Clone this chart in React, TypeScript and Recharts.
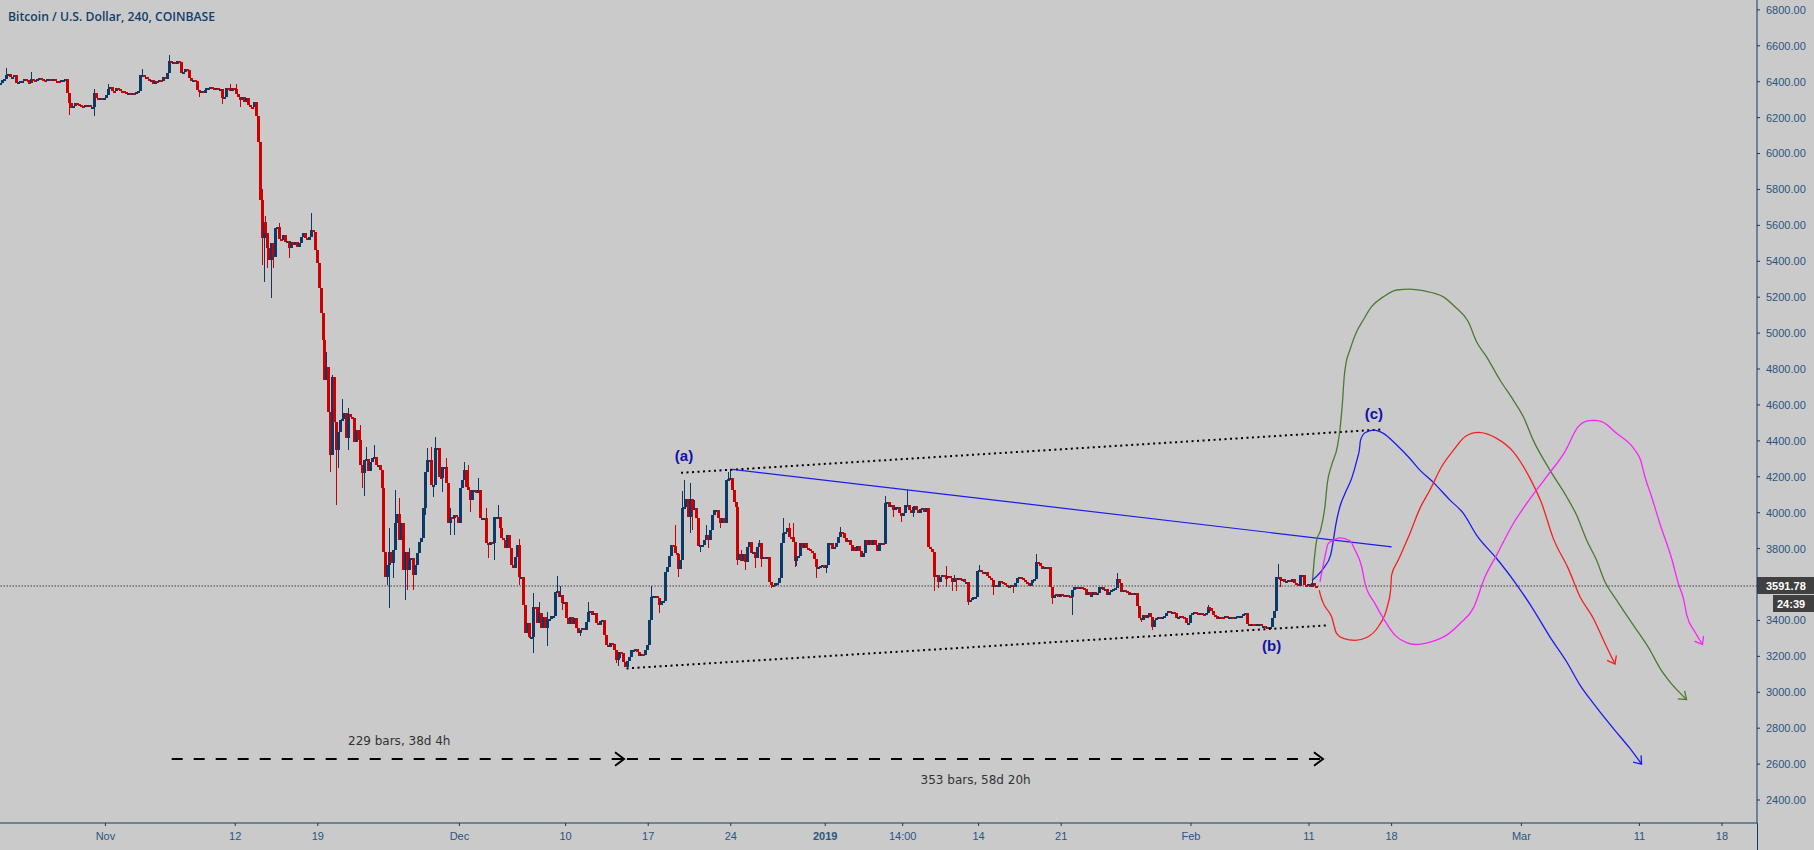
import React from "react";
import { ComposedChart, Bar, Line, XAxis, YAxis, ReferenceLine, ReferenceDot } from "recharts";

const firstOpen = 6385;
const closes = [
  6395,6410,6417,6437,6443,6424,6424,6435,6391,6398,6402,6406,6413,6410,6398,6391,6417,6410,6404,6413,6423,6413,6410,6402,6413,6415,6410,6413,6406,6404,6397,6408,6410,6413,
  6335,6280,6252,6265,6280,6278,6270,6265,6257,6268,6265,6268,6261,6261,6335,6307,6302,6311,6307,6311,6326,6358,6369,6350,6347,6363,6358,6350,6347,6343,6335,6339,6333,6335,6332,6341,6350,
  6437,6437,6424,6424,6415,6402,6410,6387,6404,6400,6410,6406,6424,6417,6450,6515,6502,6512,6499,6517,6510,6447,6456,6469,6465,6419,6406,6410,6404,6354,6345,6350,6339,6354,6363,6365,6369,6365,6354,6363,6358,6358,6307,6317,6363,6358,6350,6363,6358,6330,6317,6298,6313,6289,6311,6270,6261,6257,6289,6209,6066,5741,5528,
  5620,5555,5472,5407,5500,5425,5583,5589,5522,5518,5546,5509,5515,5472,5509,5490,5509,5481,5500,5537,5555,5528,5518,5537,5574,5561,5463,5388,5249,5110,4961,4739,4813,4562,4321,4757,4507,4349,4451,4516,4520,4553,4414,4549,4535,4525,4395,4460,4405,4265,4219,4293,4297,4234,4284,4303,4308,4265,4265,4238,4136,3783,3644,3709,3783,3718,3792,3941,3993,3848,3941,3681,3783,3681,3740,3746,3653,3709,3774,3839,3857,4024,4228,4293,4293,4154,4154,4358,4358,4200,4191,4256,4256,4163,3944,3978,3969,3987,3978,3944,4136,4182,4238,4145,4126,4070,4126,4126,4108,4126,3968,3968,3968,3829,3820,3839,3829,3978,3978,3978,3913,3857,3848,3801,3876,3801,3709,3690,3755,3820,3644,3644,3486,3332,3384,3310,3310,3477,3475,3384,3440,3356,3421,3356,3402,3406,3425,3425,3560,3565,3532,3542,3495,3505,3412,3380,3421,3380,3412,3356,3328,3347,3356,3347,3393,3449,3454,3430,3440,3384,3375,3399,3402,3319,3263,3254,3272,3268,3235,3180,3189,3226,3217,3170,3139,3176,3198,3235,3235,3239,3226,3202,3213,3207,3235,3263,
  3402,3532,3538,3538,3523,3486,3510,3510,3671,3695,3758,3820,3816,3773,3769,3684,3736,4024,4029,4079,3978,4079,4015,4024,3968,3814,3820,3820,3848,3875,3848,3903,3987,4015,4015,3968,3944,3968,3940,4182,4187,4191,4126,4061,4033,3736,3768,3731,3768,3727,3810,3838,3777,3783,3745,3810,3829,3740,3755,3751,3751,3616,3597,3591,3606,3610,3638,3829,3888,3894,3912,3866,3862,3838,3732,3755,3758,3829,3801,3833,3801,3796,3788,3773,3740,3695,3699,3703,3708,3690,3708,3829,3829,3796,3810,3829,3862,3894,3885,3857,3838,3848,3820,3788,3807,3788,3814,3788,3755,3773,3848,3820,3848,3820,3848,3820,3788,3829,3829,3825,4055,4060,4029,4042,4015,4029,4029,3996,3981,4000,4042,4042,4015,4000,4033,4037,4015,3996,4018,4024,4005,4024,3807,3796,3783,3643,3653,3616,3643,3653,3643,3638,3647,3634,3616,3634,3625,3634,3625,3629,3616,3616,3504,3513,3523,3532,3532,3675,3680,3671,3667,3671,3649,3634,3625,3588,3597,
  3584,3621,3616,3607,3597,3592,3588,3597,3584,3610,3634,3644,3634,3625,3616,3607,3592,3607,3625,3629,3727,3718,3703,3685,3696,3699,3696,3588,3523,3542,3547,3532,3547,3542,3532,3542,3536,3529,3570,3584,3588,3579,3584,3579,3573,3542,3560,3542,3542,3560,3542,3555,3584,3588,3569,3573,3542,3560,3569,3573,3579,3629,3607,3560,3569,3566,3560,3542,3551,3542,3551,3480,3412,3402,3430,3412,3430,3440,3421,3365,3402,3412,3421,3412,3417,3425,3443,3453,3445,3449,3440,3412,3417,3425,3421,3412,3384,3384,3430,3443,3449,3440,3430,3443,3436,3430,3440,3473,3467,3454,3430,3425,3406,3421,3417,3412,3425,3412,3417,3421,3417,3421,3425,3425,3427,3434,3440,3380,3375,3380,3378,3375,3378,3380,3371,3371,3365,3365,3363,3365,3412,3454,3640,3640,3625,3629,3616,3620,3625,3614,3629,3607,3603,3592,3653,3653,3597,3592,3603,3588,3607,3592,3591.78,
];
const spikeHighBars = [3,16,48,55,72,86,117,120,133,135,142,158,166,169,171,174,177,183,186,190,198,201,203,208,217,219,221,227,229,236,238,243,247,253,264,271,274,278,283,285,299,331,343,347,348,351,353,359,370,371,377,386,398,401,403,427,450,461,481,485,498,527,568,614,650,667];
const spikeHighs = [6474,6452,6358,6387,6469,6549,6387,6387,5800,5652,5611,5667,4896,4767,4460,4631,4581,4488,4367,4377,3913,4126,4080,3802,4358,4367,4423,4302,4024,4284,4265,4191,4024,4043,3855,3551,3505,3448,3647,3594,3500,3591,3931,4120,4182,4163,4070,3931,4228,4241,3792,3847,3973,3942,3944,3918,4092,4126,3703,3653,3708,3770,3662,3486,3714,3625];
const spikeLowBars = [35,48,101,113,122,133,134,136,138,139,147,168,171,172,177,184,185,197,198,200,206,207,210,216,220,225,229,231,239,248,251,264,269,271,278,286,295,313,314,335,345,351,352,356,360,366,375,379,384,387,392,404,405,415,420,454,458,464,475,477,481,484,486,492,505,515,535,545,580,586,651];
const spikeLows = [6215,6209,6315,6277,6260,5379,5286,5360,5197,5360,5416,4228,4043,4247,4349,4136,4095,3597,3467,3635,3514,3569,3569,3987,4089,4117,3876,3876,4005,3745,3737,3600,3300,3220,3258,3460,3312,3165,3145,3443,3643,3885,3903,3783,3801,3912,3710,3680,3690,3700,3580,3700,3703,3634,3662,3977,3950,3974,3565,3580,3584,3564,3566,3485,3541,3551,3490,3430,3393,3347,3584];

const priceTicks = [2400,2600,2800,3000,3200,3400,3800,4000,4200,4400,4600,4800,5000,5200,5400,5600,5800,6000,6200,6400,6600,6800];
const timeTicks = [53.6,119.6,161.6,233.6,287.6,329.6,371.6,419.6,459,497.6,539.6,605.6,665.6,707.6,773.6,833.6,875.6];
const timeLabels = ["Nov","12","19","Dec","10","17","24","2019","14:00","14","21","Feb","11","18","Mar","11","18"];

const greenX = [667.4,668.1,669.5,671.5,673.7,674.9,677.1,680,681.3,682.7,683.5,684.4,686.4,689.8,693.2,697.4,703.4,710.2,716.9,723.7,733.9,739.8,746.6,750.8,755.9,762.7,769.5,774.6,779.6,788.1,796.6,801.7,806.8,811.8,816.1,822,830.5,839,844.1,849.1,857.6];
const greenY = [3625,3717,3847,3903,4033,4163,4265,4367,4460,4627,4757,4831,4906,5008,5073,5147,5202,5240,5245,5236,5202,5147,5063,4952,4868,4739,4627,4534,4404,4237,4089,3986,3847,3736,3615,3513,3374,3235,3133,3058,2960];
const blueX = [667.4,672.9,676.6,678,679.1,681.3,683.9,687.3,690.2,691.2,691.8,694.1,698.3,703.4,710.2,716.9,722,728.8,737.3,744.1,750.8,761,769.5,778.8,788.1,796.6,803.4,810.2,820.3,828.8,834.7];
const blueY = [3625,3690,3764,3847,3925,4033,4107,4191,4302,4349,4404,4445,4460,4442,4377,4302,4237,4169,4070,3996,3875,3745,3625,3476,3309,3170,3040,2938,2799,2687,2600];
const redX = [670.8,671.2,672.9,677.1,679.6,683,689,694.9,700.8,705.4,707.1,707.6,711,716.9,722,727.1,733,739.8,744.9,751.7,761,769.5,778,783.9,789.8,797.4,803.4,810.2,816.1,821.2];
const redY = [3569,3550,3495,3420,3328,3300,3289,3305,3365,3476,3569,3652,3736,3884,4024,4126,4256,4358,4423,4447,4414,4339,4191,4052,3857,3690,3532,3411,3272,3157];
const magentaX = [671.2,673.7,675.4,678.8,681.3,686.4,689,692.4,694.1,699.1,703.4,709.3,715.2,719.5,728.8,735.6,742.4,749.1,755.1,761,769.5,776.3,786.4,795.7,802.5,805.9,810.2,814.4,822,831.3,834.2,836.4,839.8,844,850,853.4,856,857.7,861.8,865.7];
const magentaY = [3615,3754,3829,3851,3860,3844,3792,3699,3606,3495,3411,3318,3276,3266,3285,3318,3383,3467,3643,3764,3940,4052,4200,4339,4479,4507,4514,4507,4442,4349,4293,4200,4089,3940,3745,3606,3522,3430,3337,3266];
const channelTopX = [346.3,703.4];
const channelTopY = [4222,4464];
const channelBottomX = [318.6,675.9];
const channelBottomY = [3133,3373];
const slopeX = [372.4,707.6];
const slopeY = [4241,3810];
const spanOneX = [87.3,317.3];
const spanTwoX = [318.8,672.7];
const spanLevel = 2628;
const lastPrice = 3591.78;

const highAt = new Map(spikeHighBars.map((b, k) => [b, spikeHighs[k]]));
const lowAt = new Map(spikeLowBars.map((b, k) => [b, spikeLows[k]]));
const rows = closes.map((close, i) => {
  const open = i === 0 ? firstOpen : closes[i - 1];
  const high = Math.max(open, close, highAt.get(i) ?? 0);
  const low = Math.min(open, close, lowAt.get(i) ?? 99999);
  return { x: i, open, close, high, low, range: [low, high] };
});
const zip = (xs: number[], ys: number[]) => xs.map((x, k) => ({ x, y: ys[k] }));

const UP = "#0b3a68";
const DOWN = "#cc0000";
const AXIS = "#0f3b68";
const LABEL = "#2a5580";
const FONT = "'Liberation Sans', Arial, sans-serif";

function Candle(props: any) {
  const { x, y, width, height, payload } = props;
  const { open, close, high, low } = payload;
  const span = high - low || 1;
  const perUnit = height / span;
  const top = y + (high - Math.max(open, close)) * perUnit;
  const bodyH = Math.max(2, Math.abs(open - close) * perUnit);
  const color = close >= open ? UP : DOWN;
  const cx = Math.round(x + width / 2);
  return (
    <g shapeRendering="crispEdges">
      <rect x={cx} y={y} width={1} height={Math.max(1, height)} fill={color} />
      <rect x={cx - 1} y={top} width={3} height={bodyH} fill={color} />
    </g>
  );
}

const arrowDot = (last: number, angle: number, color: string, size: number, sw: number) => (p: any) => {
  if (p.index !== last) return <g key={p.index} />;
  return (
    <path
      key={p.index}
      transform={`translate(${p.cx},${p.cy}) rotate(${angle})`}
      d={`M${-size},${-size * 0.75} L0,0 L${-size},${size * 0.75}`}
      fill="none"
      stroke={color}
      strokeWidth={sw}
    />
  );
};

const TimeTick = (props: any) => {
  const { x, y, payload } = props;
  const label = timeLabels[timeTicks.indexOf(payload.value)];
  return (
    <text x={x} y={y + 12} textAnchor="middle" fontFamily={FONT} fontSize={11} fill={LABEL} fontWeight={label === "2019" ? 700 : 400}>
      {label}
    </text>
  );
};

const PriceBoxes = (props: any) => {
  const { viewBox } = props;
  const xr = viewBox.x + viewBox.width;
  const yc = viewBox.y;
  return (
    <g fontFamily={FONT} fontSize={11} fontWeight={700} fill="#ffffff">
      <rect x={xr} y={yc - 9} width={57} height={17} fill="#404040" />
      <text x={xr + 9} y={yc + 4}>3591.78</text>
      <rect x={xr + 16} y={yc + 9} width={41} height={17} fill="#404040" />
      <text x={xr + 20} y={yc + 22}>24:39</text>
    </g>
  );
};

const noteLabel = (value: string, size: number, color: string, weight: number, family: string) => ({
  value,
  position: "center" as const,
  fontSize: size,
  fill: color,
  fontWeight: weight,
  fontFamily: family,
});

export default function App() {
  return (
    <div style={{ position: "absolute", left: 0, top: 0, width: 1814, height: 850, background: "#cacaca", overflow: "hidden" }}>
      <ComposedChart width={1814} height={850} data={rows} margin={{ top: 0, right: 0, bottom: 0, left: 0 }}>
        <XAxis
          dataKey="x"
          type="number"
          domain={[0, 893.4]}
          ticks={timeTicks}
          interval={0}
          height={27}
          stroke={AXIS}
          tickLine={{ stroke: AXIS }}
          tickSize={3}
          tick={<TimeTick />}
        />
        <YAxis
          orientation="right"
          type="number"
          domain={[2272, 6855]}
          ticks={priceTicks}
          interval={0}
          width={57}
          stroke={AXIS}
          tickLine={{ stroke: AXIS }}
          tickSize={3}
          tickMargin={6}
          tickFormatter={(v: number) => v.toFixed(2)}
          tick={{ fill: LABEL, fontSize: 11, fontFamily: FONT, textAnchor: "start" }}
        />
        <ReferenceLine y={lastPrice} stroke="#404040" strokeDasharray="1.5 1.5" label={<PriceBoxes />} />
        <Bar dataKey="range" barSize={2} shape={<Candle />} isAnimationActive={false} />
        <Line data={zip(channelTopX, channelTopY)} dataKey="y" stroke="#000" strokeWidth={2} strokeDasharray="2 3.5" dot={false} activeDot={false} isAnimationActive={false} />
        <Line data={zip(channelBottomX, channelBottomY)} dataKey="y" stroke="#000" strokeWidth={2} strokeDasharray="2 3.5" dot={false} activeDot={false} isAnimationActive={false} />
        <Line data={zip(slopeX, slopeY)} dataKey="y" stroke="#1c1cf0" strokeWidth={1.2} dot={false} activeDot={false} isAnimationActive={false} />
        <Line data={zip(spanOneX, [spanLevel, spanLevel])} dataKey="y" stroke="#000" strokeWidth={2} strokeDasharray="11 11" dot={arrowDot(1, 0, "#000", 9, 2)} activeDot={false} isAnimationActive={false} />
        <Line data={zip(spanTwoX, [spanLevel, spanLevel])} dataKey="y" stroke="#000" strokeWidth={2} strokeDasharray="11 11" dot={arrowDot(1, 0, "#000", 9, 2)} activeDot={false} isAnimationActive={false} />
        <Line data={zip(greenX, greenY)} dataKey="y" type="monotone" stroke="#4a7c2f" strokeWidth={1.3} dot={arrowDot(greenX.length - 1, 40, "#4a7c2f", 7, 1.3)} activeDot={false} isAnimationActive={false} />
        <Line data={zip(blueX, blueY)} dataKey="y" type="monotone" stroke="#1c1cf0" strokeWidth={1.3} dot={arrowDot(blueX.length - 1, 50, "#1c1cf0", 7, 1.3)} activeDot={false} isAnimationActive={false} />
        <Line data={zip(redX, redY)} dataKey="y" type="monotone" stroke="#f72020" strokeWidth={1.3} dot={arrowDot(redX.length - 1, 62, "#f72020", 7, 1.3)} activeDot={false} isAnimationActive={false} />
        <Line data={zip(magentaX, magentaY)} dataKey="y" type="monotone" stroke="#fb22fb" strokeWidth={1.3} dot={arrowDot(magentaX.length - 1, 60, "#fb22fb", 7, 1.3)} activeDot={false} isAnimationActive={false} />
        <ReferenceDot x={347.8} y={4316} r={0} stroke="none" fill="none" label={noteLabel("(a)", 15, "#1212a8", 700, FONT)} />
        <ReferenceDot x={646.6} y={3259} r={0} stroke="none" fill="none" label={noteLabel("(b)", 15, "#1212a8", 700, FONT)} />
        <ReferenceDot x={698.6} y={4549} r={0} stroke="none" fill="none" label={noteLabel("(c)", 15, "#1212a8", 700, FONT)} />
        <ReferenceDot x={203} y={2730} r={0} stroke="none" fill="none" label={noteLabel("229 bars, 38d 4h", 12, "#333333", 400, "'DejaVu Sans'")} />
        <ReferenceDot x={496.1} y={2511} r={0} stroke="none" fill="none" label={noteLabel("353 bars, 58d 20h", 12, "#333333", 400, "'DejaVu Sans'")} />
      </ComposedChart>
      <div style={{ position: "absolute", left: 1757, top: 823, width: 1, height: 27, background: AXIS }} />
      <div style={{ position: "absolute", left: 8, top: 8, fontFamily: "'Open Sans', sans-serif", fontWeight: 600, fontSize: 12.2, color: "#123f6b", whiteSpace: "nowrap" }}>
        Bitcoin / U.S. Dollar, 240, COINBASE
      </div>
    </div>
  );
}
